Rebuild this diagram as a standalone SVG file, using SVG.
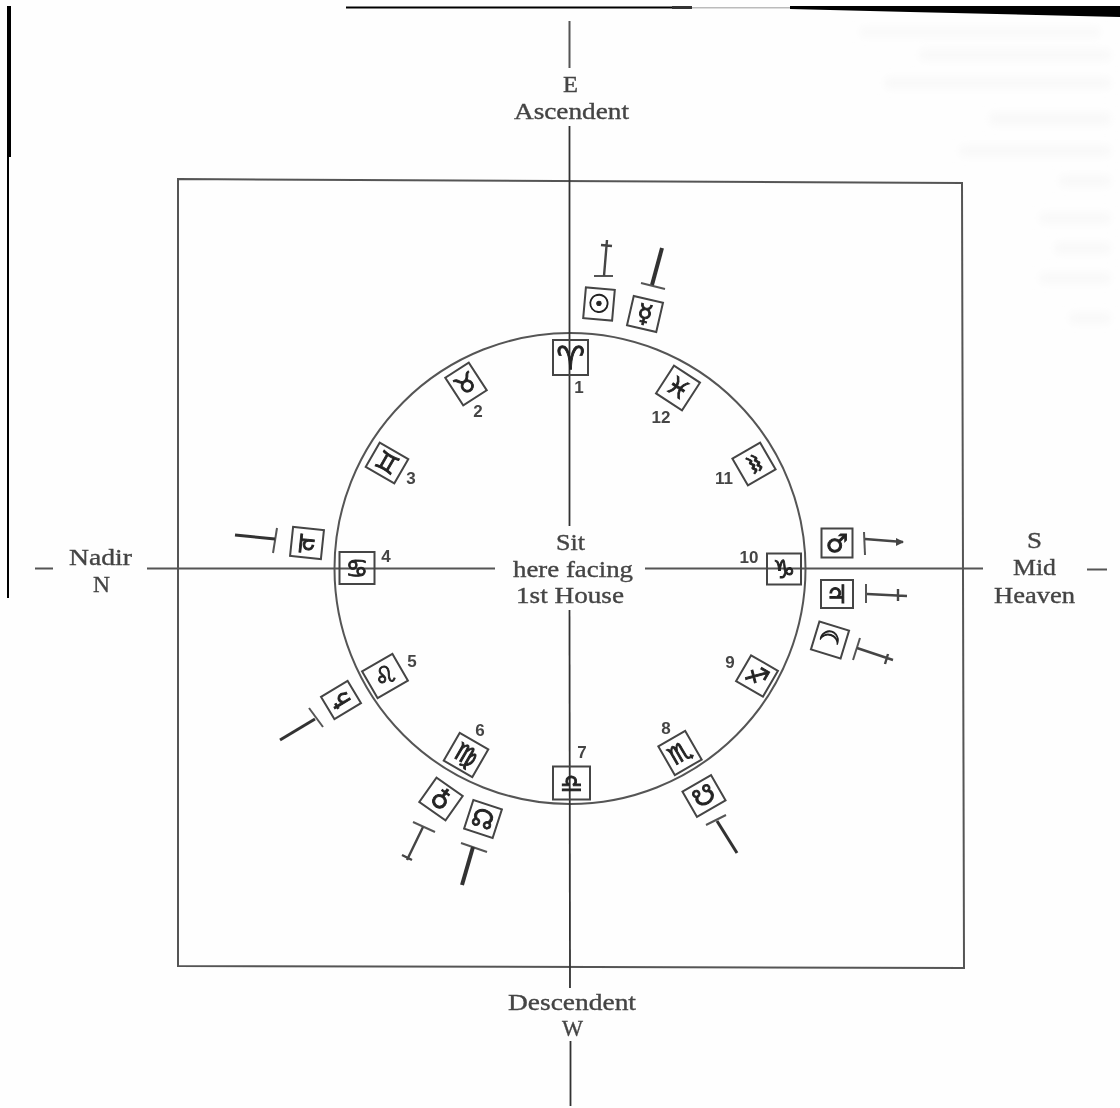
<svg xmlns="http://www.w3.org/2000/svg" width="1120" height="1108" viewBox="0 0 1120 1108">
<style>
.ln{fill:none;stroke:#555;stroke-width:2}
.dk{fill:none;stroke:#333;stroke-width:1.8}
.box{fill:#fff;fill-opacity:0;stroke:#444;stroke-width:2}
.lab{font-family:"Liberation Serif",serif;font-size:23px;fill:#444;stroke:#444;stroke-width:0.35;text-anchor:middle}
.num{font-family:"Liberation Sans",sans-serif;font-size:17px;fill:#444;text-anchor:middle;font-weight:bold}
.sym{font-family:"DejaVu Sans",sans-serif;font-size:25px;fill:#222;stroke:#222;stroke-width:0.9;text-anchor:middle;dominant-baseline:central}
.base{fill:none;stroke:#555;stroke-width:2}
.stem{fill:none;stroke:#444;stroke-width:2.4}
.stemb{fill:none;stroke:#333;stroke-width:4}
.scan{fill:#000}
</style>
<defs>
<filter id="soft" x="-5%" y="-5%" width="110%" height="110%"><feGaussianBlur stdDeviation="0.6"/></filter>
<filter id="haze" x="-10%" y="-10%" width="120%" height="120%"><feGaussianBlur stdDeviation="4"/></filter>
</defs>
<rect width="1120" height="1108" fill="#fefefe"/>
<g id="bleed" filter="url(#haze)" fill="#f8f8f8">
<rect x="860" y="28" width="240" height="8"/><rect x="920" y="50" width="190" height="10"/><rect x="885" y="78" width="225" height="10"/>
<rect x="990" y="113" width="120" height="12"/><rect x="960" y="146" width="150" height="10"/><rect x="1060" y="176" width="50" height="10"/>
<rect x="1040" y="213" width="70" height="10"/><rect x="1055" y="243" width="55" height="10"/><rect x="1040" y="273" width="70" height="10"/><rect x="1070" y="313" width="40" height="10"/>
</g>
<g id="scan-edges">
<polygon class="scan" points="790,6 1120,6 1120,17 910,12 790,9"/>
<rect class="scan" x="346" y="6.500" width="326" height="2"/>
<rect x="672" y="6" width="20" height="3" fill="#333"/>
<rect x="692" y="7" width="98" height="1.500" fill="#bbb"/>
<rect class="scan" x="7" y="6" width="4" height="151"/>
<rect class="scan" x="7" y="157" width="2" height="441"/>
</g>
<g filter="url(#soft)">
<polygon id="frame" class="ln" points="178,179 962,183 964,968 178,966"/>
<circle id="wheel" class="ln" cx="570" cy="568.500" r="235.500"/>
<g id="connectors">
<line class="ln" x1="569.500" y1="21" x2="569.500" y2="68"/>
<line class="dk" x1="569.500" y1="126" x2="569.500" y2="526"/>
<line class="dk" x1="569.500" y1="610" x2="570" y2="988"/>
<line class="dk" x1="570.500" y1="1041" x2="570.500" y2="1106"/>
<line class="ln" x1="147" y1="568.500" x2="495" y2="568.500"/>
<line class="ln" x1="645" y1="568.500" x2="983" y2="568.500"/>
<line class="ln" x1="35" y1="568.500" x2="53" y2="568.500" stroke-width="2.500"/>
<line class="ln" x1="1087" y1="569.500" x2="1107" y2="569.500" stroke-width="2.500"/>
</g>
<g id="labels">
<text class="lab" x="570.500" y="92" textLength="15" lengthAdjust="spacingAndGlyphs">E</text>
<text class="lab" x="571.500" y="119" textLength="115" lengthAdjust="spacingAndGlyphs">Ascendent</text>
<text class="lab" x="570.500" y="550" textLength="29" lengthAdjust="spacingAndGlyphs">Sit</text>
<text class="lab" x="573" y="577" textLength="120" lengthAdjust="spacingAndGlyphs">here facing</text>
<text class="lab" x="570" y="603" textLength="108" lengthAdjust="spacingAndGlyphs">1st House</text>
<text class="lab" x="572" y="1010" textLength="128" lengthAdjust="spacingAndGlyphs">Descendent</text>
<text class="lab" x="572.500" y="1036" textLength="21" lengthAdjust="spacingAndGlyphs">W</text>
<text class="lab" x="100.500" y="565" textLength="63" lengthAdjust="spacingAndGlyphs">Nadir</text>
<text class="lab" x="101.500" y="592" textLength="17" lengthAdjust="spacingAndGlyphs">N</text>
<text class="lab" x="1034.500" y="548" textLength="15" lengthAdjust="spacingAndGlyphs">S</text>
<text class="lab" x="1034.500" y="575" textLength="43" lengthAdjust="spacingAndGlyphs">Mid</text>
<text class="lab" x="1034.500" y="603" textLength="81" lengthAdjust="spacingAndGlyphs">Heaven</text>
</g>
<g id="house-1"><g transform="translate(570.500 357.500)"><rect class="box" x="-17.500" y="-17.500" width="35" height="35"/><text class="sym" style="font-size:32px">♈</text></g><text class="num" x="579" y="393">1</text></g>
<g id="house-2"><g transform="translate(466 384) rotate(-33)"><rect class="box" x="-14" y="-16.500" width="28" height="33"/><text class="sym">♉</text></g><text class="num" x="478" y="417">2</text></g>
<g id="house-3"><g transform="translate(387 463) rotate(30)"><rect class="box" x="-16.500" y="-14" width="33" height="28"/><text class="sym">♊</text></g><text class="num" x="411" y="484">3</text></g>
<g id="house-4"><g transform="translate(357 568)"><rect class="box" x="-17.500" y="-16" width="35" height="32"/><text class="sym">♋</text></g><text class="num" x="386" y="562">4</text></g>
<g id="house-5"><g transform="translate(385 676) rotate(-30)"><rect class="box" x="-17.500" y="-15.500" width="35" height="31"/><text class="sym">♌</text></g><text class="num" x="412" y="667">5</text></g>
<g id="house-6"><g transform="translate(466 755) rotate(30)"><rect class="box" x="-16.500" y="-16" width="33" height="32"/><text class="sym">♍</text></g><text class="num" x="480" y="736">6</text></g>
<g id="house-7"><g transform="translate(571.500 783)"><rect class="box" x="-18.500" y="-16.500" width="37" height="33"/><text class="sym">♎</text></g><text class="num" x="582" y="758">7</text></g>
<g id="house-8"><g transform="translate(680 753) rotate(-30)"><rect class="box" x="-15.500" y="-16.500" width="31" height="33"/><text class="sym">♏</text></g><text class="num" x="666" y="734">8</text></g>
<g id="house-9"><g transform="translate(757 676) rotate(30)"><rect class="box" x="-15.500" y="-15" width="31" height="30"/><text class="sym">♐</text></g><text class="num" x="730" y="668">9</text></g>
<g id="house-10"><g transform="translate(784 569)"><rect class="box" x="-17" y="-15.500" width="34" height="31"/><text class="sym">♑</text></g><text class="num" x="749" y="563">10</text></g>
<g id="house-11"><g transform="translate(754 464) rotate(-30)"><rect class="box" x="-16" y="-15.500" width="32" height="31"/><text class="sym" transform="rotate(90)">♒</text></g><text class="num" x="724" y="484">11</text></g>
<g id="house-12"><g transform="translate(678 388) rotate(33)"><rect class="box" x="-15.500" y="-16.500" width="31" height="33"/><text class="sym">♓</text></g><text class="num" x="661" y="423">12</text></g>
<g id="planet-sun"><g transform="translate(599 304) rotate(5)"><rect class="box" x="-14.500" y="-15.500" width="29" height="31"/><text class="sym">☉</text></g><path class="base" d="M594 276H613"/><path class="stem" d="M604 276L607 240M601 245L612 246"/></g>
<g id="planet-mercury"><g transform="translate(645 314) rotate(13)"><rect class="box" x="-15" y="-15" width="30" height="30"/><text class="sym">☿</text></g><path class="base" d="M641 283L665 289"/><path class="stemb" d="M652 285L662 248"/></g>
<g id="planet-mars"><g transform="translate(837 543)"><rect class="box" x="-15.500" y="-14.500" width="31" height="29"/><text class="sym">♂</text></g><path class="base" d="M864 532L865 555"/><path class="stem" d="M865 539L903 542"/><path d="M896 538L904 542L896 546Z" fill="#444"/></g>
<g id="planet-jupiter"><g transform="translate(837 594)"><rect class="box" x="-16" y="-14" width="32" height="28"/><text class="sym">♃</text></g><path class="base" d="M866 584V603"/><path class="stem" d="M867 594L907 596M898 589V601"/></g>
<g id="planet-moon"><g transform="translate(830 640) rotate(17)"><rect class="box" x="-15.500" y="-14.500" width="31" height="29"/><text class="sym" transform="rotate(-90)">☽</text></g><path class="base" d="M860 638L853 660"/><path class="stem" d="M857 648L893 660M888 654L885 664"/></g>
<g id="planet-ketu"><g transform="translate(704 796) rotate(-30)"><rect class="box" x="-16.500" y="-14.500" width="33" height="29"/><text class="sym">☋</text></g><path class="base" d="M706 825L726 815"/><path class="stemb" style="stroke-width:3" d="M717 821L737 853"/></g>
<g id="planet-rahu"><g transform="translate(483 819) rotate(18)"><rect class="box" x="-15" y="-15" width="30" height="30"/><text class="sym">☊</text></g><path class="base" d="M461 843L487 852"/><path class="stemb" d="M473 847L462 885"/></g>
<g id="planet-venus"><g transform="translate(441 799) rotate(35)"><rect class="box" x="-16" y="-15" width="32" height="30"/><text class="sym" transform="rotate(180)">♀</text></g><path class="base" d="M413 822L435 832"/><path class="stem" d="M423 827L407 860M402 855L412 860"/></g>
<g id="planet-saturn"><g transform="translate(341 700) rotate(-31)"><rect class="box" x="-15.500" y="-13" width="31" height="26"/><text class="sym" transform="rotate(-90)">♄</text></g><path class="base" d="M309 708L323 727"/><path class="stemb" style="stroke-width:3" d="M315 719L280 740"/></g>
<g id="planet-fourth"><g transform="translate(307 543) rotate(6)"><rect class="box" x="-15.500" y="-14.500" width="31" height="29"/><text class="sym" transform="rotate(180)">♃</text></g><path class="base" d="M277 528L273 553"/><path class="stemb" style="stroke-width:3" d="M275 539L235 535"/></g>
</g>
</svg>
